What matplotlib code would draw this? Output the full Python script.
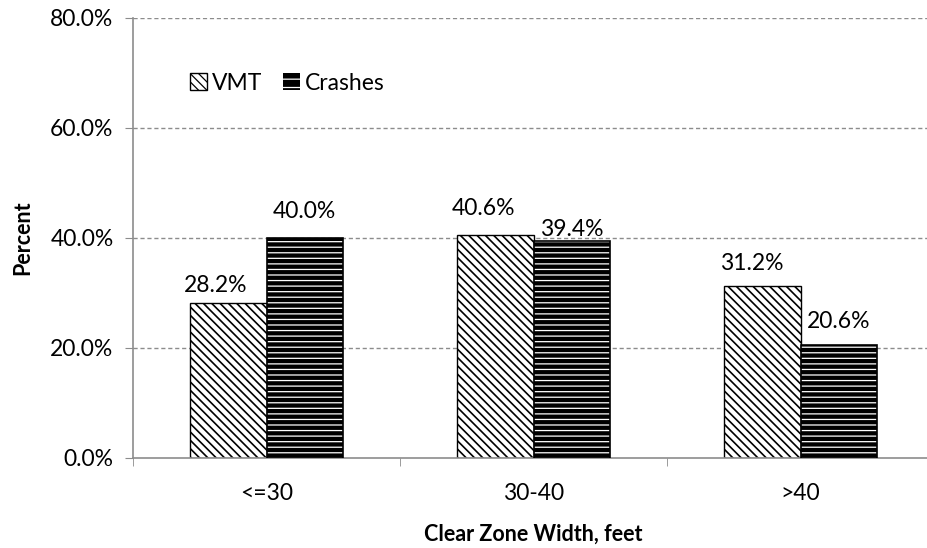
import matplotlib
matplotlib.use("Agg")
import matplotlib.pyplot as plt
import numpy as np
from matplotlib.patches import Patch

categories = ["<=30", "30-40", ">40"]
vmt = [28.2, 40.6, 31.2]
crashes = [40.0, 39.4, 20.6]
yticks = [0, 20, 40, 60, 80]

plt.rcParams['font.family'] = ['Lato', 'DejaVu Sans']

FS = 16.5
fig = plt.figure(figsize=(9.27, 5.48), dpi=100)
ax = fig.add_axes([133/927, 1-458/548, (934-133)/927, (458-18)/548])

x = np.arange(len(categories))
w = 0.2857
grey = "#8c8c8c"

ax.set_xlim(-0.5, 2.5)
ax.set_ylim(0, 80)
for yv in yticks[1:]:
    ax.axhline(yv, color=grey, lw=1, ls=(0, (3, 2)), zorder=0)

plt.rcParams['hatch.linewidth'] = 1.2
ax.bar(x - w/2, vmt, w, facecolor="white", edgecolor="black", hatch="\\\\\\\\", lw=1, zorder=2)
h1 = Patch(facecolor="white", edgecolor="black", hatch="\\\\\\\\", lw=1)
plt.rcParams['hatch.linewidth'] = 0.9
ax.bar(x + w/2, crashes, w, facecolor="black", edgecolor="white", hatch="---", lw=0, zorder=2)
h2 = Patch(facecolor="black", edgecolor="white", hatch="--", lw=0)
ax.bar(x + w/2, crashes, w, facecolor="none", edgecolor="black", lw=1.2, zorder=3)

ax.legend([h1, h2], ["VMT", "Crashes"], loc="center left", bbox_to_anchor=(0.071, 0.852),
          ncol=2, frameon=False, fontsize=FS, handlelength=0.75, handleheight=0.75,
          handletextpad=0.2, columnspacing=0.9, borderaxespad=0, borderpad=0)

vmt_off = [(-13, 17), (-12, 26), (-11, 23)]
cr_off = [(0, 27), (0, 12), (0, 23)]
for i in range(len(categories)):
    ax.annotate(f"{vmt[i]:.1f}%", (x[i] - w/2, vmt[i]), xytext=vmt_off[i], textcoords="offset pixels",
                ha="center", va="center", fontsize=FS)
    ax.annotate(f"{crashes[i]:.1f}%", (x[i] + w/2, crashes[i]), xytext=cr_off[i], textcoords="offset pixels",
                ha="center", va="center", fontsize=FS)

ax.set_yticks(yticks)
ax.set_yticklabels([f"{v:.1f}%" for v in yticks], fontsize=FS)
ax.set_xticks(x)
ax.set_xticklabels(categories, fontsize=FS)
ax.tick_params(axis="x", length=0, pad=18)
ax.set_xticks([-0.5, 0.5, 1.5, 2.5], minor=True)
ax.tick_params(axis="x", which="minor", length=6, color=grey, direction="out")
ax.tick_params(axis="y", length=6, color=grey, direction="out", pad=8)

for s in ["top", "right"]:
    ax.spines[s].set_visible(False)
for s in ["left", "bottom"]:
    ax.spines[s].set_color(grey)
    ax.spines[s].set_linewidth(1.2)

ax.set_ylabel("Percent", fontsize=15.5, fontweight="bold", labelpad=12)
ax.set_xlabel("Clear Zone Width, feet", fontsize=15.5, fontweight="bold", labelpad=14)

fig.savefig("out.png", dpi=100)
